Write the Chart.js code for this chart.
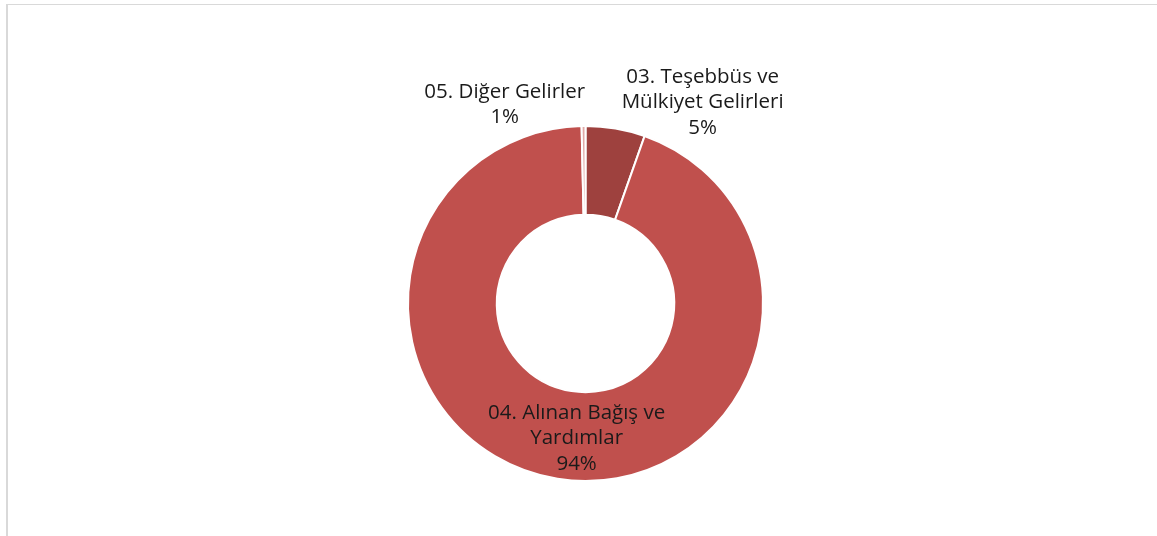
<!DOCTYPE html>
<html>
<head>
<meta charset="utf-8">
<script src="https://cdn.jsdelivr.net/npm/chart.js@4.4.1/dist/chart.umd.min.js"></script>
<style>
	html, body { margin: 0; padding: 0; background: #fff; }
	#frame {
		position: absolute; left: 6px; top: 4px; width: 1160px; height: 540px;
		border-top: 1px solid #d9d9d9; border-left: 2px solid #d9d9d9;
	}
	#wrap { position: absolute; left: 0; top: 0; width: 1157px; height: 536px; }
</style>
</head>
<body>
<div id="frame"></div>
<div id="wrap"><canvas id="chart1"></canvas></div>
<script>
const categories = [
	['03. Teşebbüs ve', 'Mülkiyet Gelirleri'],
	['04. Alınan Bağış ve', 'Yardımlar'],
	['05. Diğer Gelirler']
];
const values = [5.4, 94.25, 0.35];
const pctLabels = ['5%', '94%', '1%'];
const colors = ['#9E413E', '#C0504D', '#E0A9A7'];

// label positions relative to the centre, in units of outer radius
const labelOffsets = [[0.66, -1.133], [-0.05, 0.76], [-0.455, -1.12]];

const labelPlugin = {
	id: 'sliceLabels',
	afterDatasetsDraw(chart) {
		const ctx = chart.ctx;
		const arcs = chart.getDatasetMeta(0).data;
		ctx.save();
		ctx.font = '20.5px "Open Sans", sans-serif';
		ctx.fillStyle = '#1a1a1a';
		ctx.textAlign = 'center';
		ctx.textBaseline = 'middle';
		arcs.forEach((arc, i) => {
			const r = arc.outerRadius;
			const x = arc.x + labelOffsets[i][0] * r;
			const lines = categories[i].concat([pctLabels[i]]);
			const lh = 25.5;
			let y = arc.y + labelOffsets[i][1] * r - (lines.length - 1) * lh / 2;
			lines.forEach(t => { ctx.fillText(t, x, y); y += lh; });
		});
		ctx.restore();
	}
};

new Chart(document.getElementById('chart1').getContext('2d'), {
	type: 'doughnut',
	data: {
		labels: categories.map(c => c.join(' ')),
		datasets: [{
			data: values,
			backgroundColor: colors,
			borderColor: '#ffffff',
			borderWidth: 2
		}]
	},
	options: {
		responsive: true,
		maintainAspectRatio: false,
		animation: false,
		cutout: '50%',
		layout: { padding: { top: 125, bottom: 54, left: 14, right: 0 } },
		plugins: {
			legend: { display: false },
			tooltip: { enabled: false }
		}
	},
	plugins: [labelPlugin]
});
</script>
</body>
</html>
